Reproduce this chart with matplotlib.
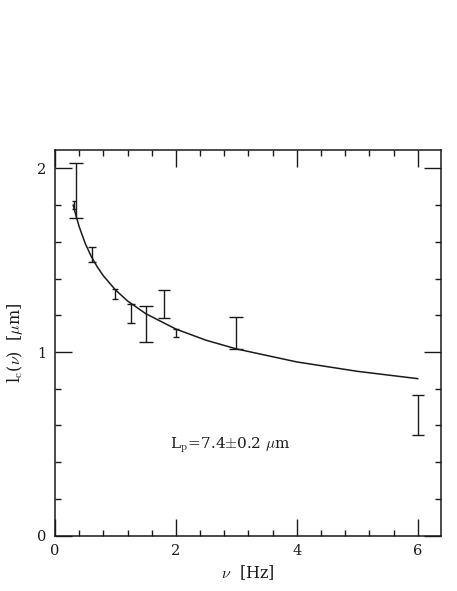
import matplotlib
matplotlib.use("Agg")
import matplotlib.pyplot as plt
from matplotlib.ticker import MultipleLocator

# =============================================================================
# Data
# =============================================================================

# measured correlation lengths with error bars
NU = [0.35, 0.31, 0.61, 1.00, 1.26, 1.50, 1.80, 2.00, 3.00, 6.00]
LC = [1.88, 1.80, 1.53, 1.317, 1.211, 1.153, 1.259, 1.105, 1.103, 0.657]
LC_ERR = [0.15, 0.022, 0.042, 0.026, 0.052, 0.097, 0.076, 0.021, 0.087, 0.108]

# fitted curve, sampled along the drawn line
FIT_NU = [0.30, 0.35, 0.40, 0.50, 0.60, 0.70, 0.80, 1.00, 1.20, 1.50,
          2.00, 2.50, 3.00, 4.00, 5.00, 6.00]
FIT_LC = [1.800, 1.739, 1.682, 1.591, 1.520, 1.463, 1.415, 1.338, 1.278,
          1.209, 1.125, 1.064, 1.017, 0.946, 0.895, 0.855]

X_TICKS = [0, 2, 4, 6]
Y_TICKS = [0, 1, 2]

FIT_LABEL = r"L$_{\rm p}$=7.4$\pm$0.2 $\mu$m"

# cap half-widths in points (they differ from bar to bar in the original)
CAP_SIZES = [5.0, 1.5, 3.0, 2.0, 3.2, 5.2, 4.3, 2.2, 5.0, 4.6]

# =============================================================================
# Plot
# =============================================================================

plt.rcParams.update(
    {
        "font.family": "serif",
        "font.serif": ["DejaVu Serif", "Liberation Serif"],
        "mathtext.fontset": "cm",
        "font.size": 11,
    }
)

fig = plt.figure(figsize=(4.57, 5.91), dpi=100)
ax = fig.add_axes([0.1204, 0.0936, 0.8439, 0.6526])

ink = "#1a1a1a"

ax.plot(FIT_NU, FIT_LC, color=ink, linewidth=1.1)

for x, y, e, cs in zip(NU, LC, LC_ERR, CAP_SIZES):
    ax.errorbar(
        x, y, yerr=e,
        fmt="none",
        ecolor=ink,
        elinewidth=1.0,
        capsize=cs,
        capthick=1.0,
    )

ax.text(1.91, 0.49, FIT_LABEL, fontsize=11, ha="left", va="center", color=ink)

ax.set_xlim(0, 6.38)
ax.set_ylim(0, 2.1)
ax.set_xticks(X_TICKS)
ax.set_yticks(Y_TICKS)
ax.xaxis.set_minor_locator(MultipleLocator(0.4))
ax.yaxis.set_minor_locator(MultipleLocator(0.2))

ax.tick_params(which="both", direction="in", top=True, right=True,
               color=ink, width=1.0, labelsize=10.5, labelcolor=ink)
ax.tick_params(which="major", length=12, pad=6)
ax.tick_params(which="minor", length=4.2)

for spine in ax.spines.values():
    spine.set_color(ink)
    spine.set_linewidth(1.1)

ax.set_xlabel(r"$\nu$  [Hz]", fontsize=11.5, labelpad=4, color=ink)
ax.set_ylabel(r"l$_{\rm c}$($\nu$)  [$\mu$m]", fontsize=11.5, labelpad=9, color=ink)

fig.savefig("out.png", dpi=100)
plt.close(fig)
